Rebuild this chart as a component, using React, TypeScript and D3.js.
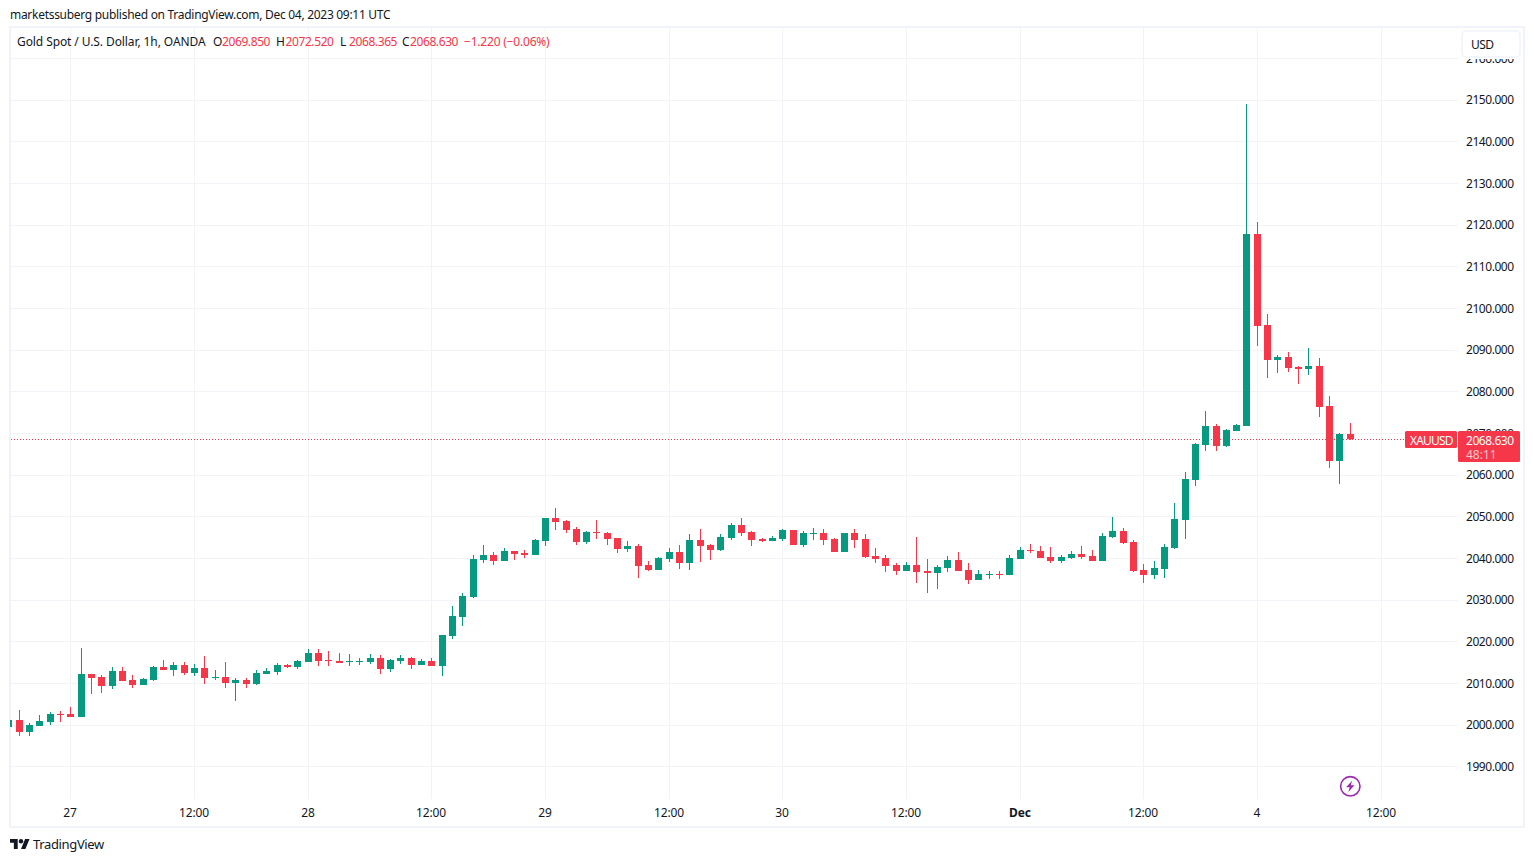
import React from "react";
import * as d3 from "d3";

// Candle hours are numbered from the "27" tick; the first candle sits six hours before it.
const firstIndex = -6;
const opens = [
  1999.6,2001.26,1998.38,1999.82,2000.78,2002.7,2002.7,2001.98,2012.3,2011.58,
  2009.42,2013.02,2010.86,2009.66,2010.86,2013.98,2013.26,2014.46,2012.54,2013.74,
  2011.34,2011.58,2010.14,2010.86,2009.9,2012.3,2012.78,2014.46,2013.98,2015.18,
  2017.34,2015.66,2015.42,2015.18,2015.18,2015.18,2016.14,2013.5,2015.42,2016.14,
  2014.46,2015.42,2014.22,2021.4,2025.96,2030.76,2039.64,2040.84,2039.4,2041.8,
  2041.32,2040.84,2044.2,2049.72,2049,2047.08,2043.96,2046.36,2046.12,2044.92,
  2042.28,2043,2038.44,2037.24,2039.88,2041.56,2038.92,2044.44,2043.24,2042.04,
  2044.92,2048.04,2046.36,2044.68,2044.2,2044.68,2046.84,2043.24,2045.88,2046.12,
  2044.68,2041.56,2046.12,2044.68,2040.6,2040.12,2038.44,2037,2038.44,2037,
  2036.52,2037.72,2039.64,2037.24,2034.84,2036.04,2036.28,2036.04,2039.88,2042.04,
  2041.8,2040.36,2039.4,2040.12,2041.08,2040.6,2039.4,2045.16,2046.59,2043.95,
  2037.23,2036.03,2037.47,2042.51,2049.23,2058.83,2067.23,2071.79,2066.99,2070.59,
  2071.75,2117.83,2095.99,2087.59,2088.31,2085.91,2085.43,2086.15,2076.55,2063.35,2069.85,
];
const closes = [
  2001.3,1998.38,2000.06,2001.02,2002.7,2002.46,2001.98,2012.3,2011.34,2009.42,
  2013.02,2010.62,2009.66,2011.1,2013.98,2013.26,2014.46,2012.54,2013.74,2011.34,
  2011.58,2010.14,2010.86,2009.9,2012.54,2013.02,2014.46,2013.98,2015.42,2017.34,
  2015.42,2015.42,2014.94,2015.42,2015.42,2016.14,2013.5,2015.66,2016.14,2014.46,
  2015.42,2014.22,2021.66,2026.2,2031,2039.88,2040.84,2039.4,2041.8,2041.08,
  2040.84,2044.44,2049.72,2048.76,2046.84,2043.96,2046.36,2046.12,2044.68,2042.28,
  2043,2038.2,2037.24,2040.12,2041.56,2038.92,2044.44,2043,2042.04,2045.16,
  2048.04,2046.12,2044.44,2044.2,2044.92,2046.84,2043.24,2046.12,2046.12,2044.44,
  2041.56,2046.12,2044.44,2040.36,2039.88,2038.2,2037,2038.44,2036.76,2036.52,
  2037.96,2039.64,2037,2034.84,2036.28,2036.28,2036.04,2040.12,2042.04,2041.8,
  2040.12,2039.4,2040.36,2041.08,2040.36,2039.4,2045.4,2046.6,2043.71,2036.99,
  2036.03,2037.71,2042.75,2049.47,2059.07,2067.47,2071.79,2066.99,2070.83,2072.03,
  2117.83,2095.75,2087.59,2088.31,2085.67,2085.43,2086.15,2076.31,2063.35,2069.83,2068.63,
];
const highs = [
  2001.3,2003.66,2000.54,2002.46,2003.18,2003.42,2004.38,2018.54,2012.3,2012.06,
  2014,2014,2012.06,2011.34,2014.22,2015.66,2015.18,2015.18,2014.7,2016.62,
  2013.26,2015.18,2011.34,2011.34,2013.26,2013.74,2014.94,2014.7,2015.66,2018.3,
  2018.3,2017.82,2017.34,2017.1,2016.14,2017.1,2016.86,2015.9,2016.86,2016.38,
  2015.9,2016.14,2021.66,2028.6,2031.72,2040.84,2043.24,2041.56,2042.52,2041.8,
  2042.04,2044.68,2049.72,2052.12,2049.24,2047.56,2046.6,2049.24,2046.36,2044.92,
  2044.2,2043.48,2039.4,2040.36,2042.52,2043.24,2045.88,2047.08,2043.48,2045.88,
  2048.52,2049.72,2046.6,2044.92,2045.4,2047.08,2046.84,2046.6,2047.32,2047.08,
  2044.92,2046.12,2047.08,2045.88,2042.52,2040.84,2038.92,2039.16,2045.16,2039.88,
  2038.44,2040.6,2041.56,2038.92,2037.24,2037,2037,2040.84,2042.76,2043.48,
  2043,2042.76,2040.84,2041.8,2043,2042.04,2046.12,2049.96,2047.31,2044.43,
  2038.67,2039.39,2043.47,2053.31,2060.75,2067.71,2075.39,2072.27,2071.07,2072.27,
  2149.03,2120.71,2098.63,2088.79,2089.51,2086.15,2090.47,2088.07,2078.95,2070.07,2072.52,
];
const lows = [
  1999.6,1997.42,1997.42,1999.82,2000.06,2000.78,2001.98,2001.98,2007.5,2007.74,
  2008.7,2010.62,2008.94,2009.66,2010.62,2013.26,2011.82,2012.06,2011.82,2009.9,
  2010.86,2008.94,2005.82,2008.94,2009.66,2012.3,2012.06,2013.74,2013.5,2015.18,
  2014.22,2014.22,2014.94,2014.22,2014.46,2014.7,2012.3,2012.78,2014.7,2013.5,
  2014.46,2014.22,2011.82,2020.68,2023.8,2030.52,2038.92,2038.44,2039.4,2039.64,
  2040.12,2040.84,2043,2046.84,2046.12,2043.24,2043.48,2044.68,2043.24,2041.32,
  2041.56,2035.32,2037,2037.24,2039.16,2037.48,2037.24,2039.16,2039.64,2041.8,
  2044.44,2045.4,2043,2043.96,2044.2,2044.2,2043.24,2042.76,2044.44,2043.24,
  2041.56,2041.56,2042.52,2040.12,2038.92,2036.76,2036.04,2037,2034.12,2031.72,
  2032.68,2036.76,2037,2033.88,2034.84,2035.08,2035.08,2036.04,2039.88,2041.32,
  2040.12,2038.92,2038.92,2039.88,2039.88,2039.4,2039.4,2044.92,2043.47,2036.75,
  2034.11,2035.07,2035.31,2042.27,2044.67,2057.39,2065.79,2065.79,2066.75,2070.59,
  2071.75,2090.95,2083.27,2084.47,2084.71,2081.83,2083.99,2073.91,2061.67,2057.83,2068.365,
];

const priceTicks = [1990,2000,2010,2020,2030,2040,2050,2060,2070,2080,2090,2100,2110,2120,2130,2140,2150,2160];
const timeTickIndex = [0,12,23,35,46,58,69,81,92,104,115,127];
const timeTickLabels = ["27","12:00","28","12:00","29","12:00","30","12:00","Dec","12:00","4","12:00"];
const legendTitle = "Gold Spot / U.S. Dollar, 1h, OANDA";
const legendItems = [
  { key: "O", keyX: 213, val: "2069.850", valX: 222 },
  { key: "H", keyX: 276, val: "2072.520", valX: 285.5 },
  { key: "L", keyX: 340, val: "2068.365", valX: 349 },
  { key: "C", keyX: 402, val: "2068.630", valX: 410 },
];
const lastPrice = 2068.63;

const UP = "#089981";
const DOWN = "#f63649";
const INK = "#131722";
const FRAME = "#f0f3fa";
const GRID = "#f2f3f6";
const FONT = "'Noto Sans', sans-serif";

const x = d3.scaleLinear().domain([0, 127]).range([70.8, 1381.11]);
const y = d3.scaleLinear().domain([2000, 2150]).range([725.2, 100]);
const px = (i: number) => Math.floor(x(i));

export default function App() {
  const candles = d3.range(opens.length).map((n) => ({
    i: firstIndex + n, o: opens[n], c: closes[n], h: highs[n], l: lows[n],
  }));
  const lastY = Math.round(y(lastPrice));
  return (
    <svg width={1534} height={862} viewBox="0 0 1534 862"
      style={{ position: "absolute", left: 0, top: 0, display: "block", background: "#fff" }}
      fontFamily={FONT} fontSize={12} fill={INK}>
      <defs>
        <clipPath id="plot"><rect x={10} y={28} width={1448} height={771} /></clipPath>
      </defs>

      <text x={10} y={19} letterSpacing={-0.29}>marketssuberg published on TradingView.com, Dec 04, 2023 09:11 UTC</text>

      <rect x={10} y={27} width={1514} height={800} fill="#fff" stroke={FRAME} strokeWidth={2} />

      <g shapeRendering="crispEdges" stroke={GRID} strokeWidth={1}>
        {priceTicks.map((p) => (
          <line key={p} x1={11} x2={1458} y1={Math.floor(y(p)) + 0.5} y2={Math.floor(y(p)) + 0.5} />
        ))}
        {timeTickIndex.map((t) => (
          <line key={t} x1={px(t) + 0.5} x2={px(t) + 0.5} y1={28} y2={799} />
        ))}
      </g>

      {priceTicks.map((p) => (
        <text key={p} x={1466} y={y(p) + 4.2} letterSpacing={-0.45}>{p.toFixed(3)}</text>
      ))}

      {timeTickIndex.map((t, n) => (
        <text key={t} x={px(t)} y={817} textAnchor="middle" letterSpacing={-0.1}
          fontWeight={timeTickLabels[n] === "Dec" ? 700 : 400}>{timeTickLabels[n]}</text>
      ))}

      <line x1={11} x2={1405} y1={lastY + 0.5} y2={lastY + 0.5} stroke={DOWN} strokeWidth={1} strokeDasharray="1 2" shapeRendering="crispEdges" />

      <g clipPath="url(#plot)" shapeRendering="crispEdges">
        {candles.map((d) => {
          const color = d.c >= d.o ? UP : DOWN;
          const cx = px(d.i);
          const top = Math.round(y(Math.max(d.o, d.c)));
          const bottom = Math.round(y(Math.min(d.o, d.c)));
          const hi = Math.round(y(d.h));
          const lo = Math.round(y(d.l));
          return (
            <g key={d.i} fill={color}>
              <rect x={cx} y={hi} width={1} height={Math.max(1, lo - hi)} />
              <rect x={cx - 3} y={top} width={7} height={Math.max(1, bottom - top)} />
            </g>
          );
        })}
      </g>

      {/* legend */}
      <text x={17} y={46} letterSpacing={-0.09}>{legendTitle}</text>
      {legendItems.map((it) => (
        <g key={it.key}>
          <text x={it.keyX} y={46}>{it.key}</text>
          <text x={it.valX} y={46} fill={DOWN} letterSpacing={-0.4}>{it.val}</text>
        </g>
      ))}
      <text x={464} y={46} fill={DOWN} letterSpacing={-0.2}>−1.220 (−0.06%)</text>

      {/* currency button */}
      <rect x={1458} y={28} width={65} height={31} fill="#fff" />
      <rect x={1462} y={31} width={58} height={26} rx={4} fill="#fff" stroke={FRAME} strokeWidth={1.5} />
      <text x={1471} y={48.5} letterSpacing={-0.6}>USD</text>

      {/* last price labels */}
      <rect x={1405} y={431} width={52} height={17} rx={1.5} fill={DOWN} />
      <text x={1410} y={444.5} fill="#fff" letterSpacing={-0.8}>XAUUSD</text>
      <rect x={1458} y={431} width={62} height={31} rx={1.5} fill={DOWN} />
      <text x={1466} y={444.5} fill="#fff" letterSpacing={-0.45}>2068.630</text>
      <text x={1466} y={459} fill="#fff" fillOpacity={0.72}>48:11</text>

      {/* lightning badge */}
      <g transform="translate(1350.3,786.3)">
        <circle r={9.7} fill="#fff" stroke="#9c27b0" strokeWidth={1.6} />
        <path d="M1.8,-5.6 L-4.2,0.9 L-0.6,0.9 L-2,5.6 L4.2,-1 L0.5,-1 Z" fill="#9c27b0" />
      </g>

      {/* brand */}
      <g transform="translate(10,836.8) scale(0.55)" fill={INK}>
        <path d="M14 22H7V11H0V4h14v18zM28 22h-8l7.5-18h8L28 22z" />
        <circle cx={20} cy={8} r={4} />
      </g>
      <text x={33} y={849} fontSize={13} letterSpacing={-0.35}>TradingView</text>
    </svg>
  );
}
